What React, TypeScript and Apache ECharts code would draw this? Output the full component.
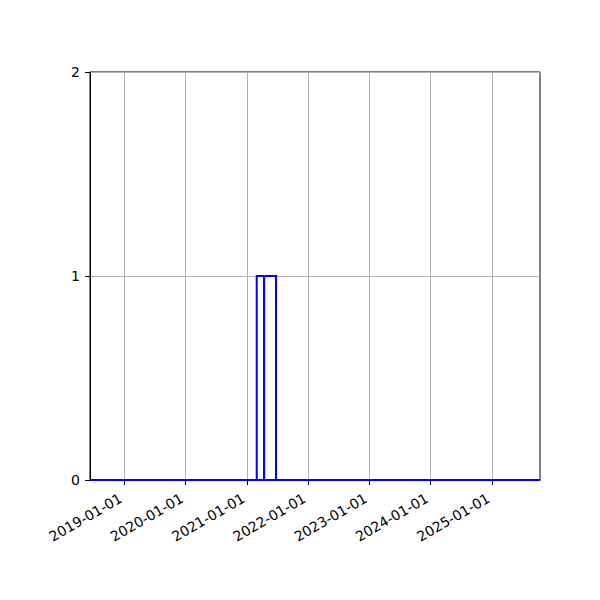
import * as echarts from 'echarts';
import { useEffect, useRef } from 'react';

// bin edges (dates) and counts of the histogram
const binEdges = ['2018-06-11', '2021-03-01', '2021-04-14', '2021-06-24', '2025-10-15'];
const binCounts = [0, 1, 1, 0];
const xTickDates = ['2019-01-01', '2020-01-01', '2021-01-01', '2022-01-01', '2023-01-01', '2024-01-01', '2025-01-01'];
const yMax = 2;

const ts = (d: string) => Date.parse(d + 'T00:00:00Z');

function fmtDate(v: number): string {
  const d = new Date(v);
  const p = (n: number) => String(n).padStart(2, '0');
  return `${d.getUTCFullYear()}-${p(d.getUTCMonth() + 1)}-${p(d.getUTCDate())}`;
}

export default function App() {
  const chartRef = useRef<HTMLDivElement>(null);

  useEffect(() => {
    if (!chartRef.current) return;
    const chart = echarts.init(chartRef.current, undefined, { renderer: 'svg' });
    const font = 'DejaVu Sans';
    const xTicks = xTickDates.map(ts);
    const bins = binCounts.map((c, i) => [ts(binEdges[i]), ts(binEdges[i + 1]), c]);

    chart.setOption({
      animation: false,
      backgroundColor: '#fff',
      grid: {
        left: 90, right: 60, top: 72, bottom: 120,
        show: true, borderColor: '#000', borderWidth: 1, backgroundColor: 'transparent',
      },
      xAxis: {
        type: 'value',
        min: ts(binEdges[0]),
        max: ts(binEdges[binEdges.length - 1]),
        axisLine: { lineStyle: { color: '#000', width: 1 } },
        axisTick: { customValues: xTicks, length: 5, lineStyle: { color: '#000' } },
        axisLabel: {
          customValues: xTicks,
          rotate: 30,
          margin: 15,
          padding: [0, 4, 0, 0],
          fontFamily: font,
          fontSize: 14,
          color: '#000',
          formatter: (v: number) => fmtDate(v),
        },
        splitLine: { show: true, lineStyle: { color: '#b0b0b0', width: 1 } },
      },
      yAxis: {
        type: 'value',
        min: 0,
        max: yMax,
        interval: 1,
        axisLine: { show: true, lineStyle: { color: '#000', width: 1 } },
        axisTick: { show: true, length: 5, lineStyle: { color: '#000' } },
        axisLabel: { margin: 10, fontFamily: font, fontSize: 14, color: '#000' },
        splitLine: { show: true, lineStyle: { color: '#b0b0b0', width: 1 } },
      },
      series: [
        {
          type: 'custom',
          clip: false,
          z: 10,
          encode: { x: [0, 1], y: 2 },
          data: bins,
          renderItem: (_params: unknown, api: any) => {
            const p0 = api.coord([api.value(0), api.value(2)]);
            const p1 = api.coord([api.value(1), 0]);
            return {
              type: 'polyline',
              shape: {
                points: [
                  [p0[0], p1[1]], [p0[0], p0[1]], [p1[0], p0[1]], [p1[0], p1[1]], [p0[0], p1[1]],
                ],
              },
              style: { fill: 'none', stroke: '#0000ff', lineWidth: 2 },
            };
          },
        },
      ],
    });

    return () => chart.dispose();
  }, []);

  return (
    <div
      ref={chartRef}
      style={{ position: 'absolute', left: 0, top: 0, width: 600, height: 600 }}
    />
  );
}
